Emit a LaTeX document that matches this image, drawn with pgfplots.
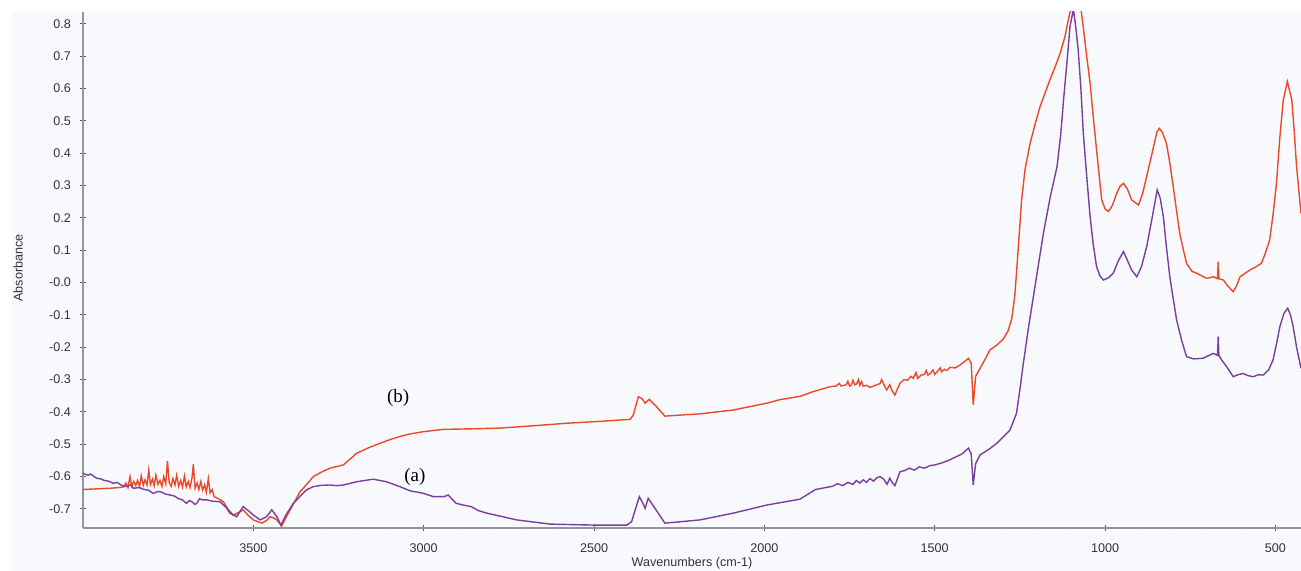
\documentclass[border=0pt]{standalone}
\usepackage{pgfplots}
\pgfplotsset{compat=1.18}
\usepackage{fontspec}
\setmainfont{Liberation Sans}
\newfontfamily\seriffont{Liberation Serif}
\definecolor{redc}{RGB}{236,72,42}
\definecolor{purc}{RGB}{122,62,160}
\definecolor{bgc}{RGB}{248,249,252}
\definecolor{axc}{RGB}{150,150,150}
\begin{document}
\begin{tikzpicture}
\useasboundingbox (-41.5pt,-21.5pt) rectangle (609pt,264pt);
\fill[bgc] (-35.5pt,-21.5pt) rectangle (609pt,258pt);
\begin{axis}[at={(0,0)}, anchor=south west, scale only axis,
  width=609pt, height=258pt,
  xmin=425, xmax=4000, x dir=reverse, ymin=-0.759, ymax=0.837,
  axis x line*=bottom, axis y line*=left,
  axis line style={axc, line width=0.7pt, -},
  xtick={500,1000,1500,2000,2500,3000,3500},
  xticklabels={500,1000,1500,2000,2500,3000,3500},
  minor x tick num=4,
  ytick={-0.7,-0.6,-0.5,-0.4,-0.3,-0.2,-0.1,0,0.1,0.2,0.3,0.4,0.5,0.6,0.7,0.8},
  yticklabels={-0.7,-0.6,-0.5,-0.4,-0.3,-0.2,-0.1,-0.0,0.1,0.2,0.3,0.4,0.5,0.6,0.7,0.8},
  minor y tick num=9,
  tick align=center, major tick length=3pt, minor tick length=1.4pt,
  major tick style={black!65, line width=0.5pt},
  minor tick style={black!60, line width=0.9pt},
  ticklabel style={font=\fontsize{6.3}{7}\selectfont, text=black!80},
  xticklabel style={yshift=-3pt},
  yticklabel style={xshift=-1pt},
  clip=true,
]
% (b) red
\addplot[redc, line width=0.7pt] coordinates {
(4000,-0.640) (3960,-0.638) (3920,-0.636) (3895,-0.634)
(3880,-0.632) (3874,-0.620) (3868,-0.634) (3862,-0.600) (3857,-0.630) (3851,-0.615) (3845,-0.628)
(3840,-0.612) (3834,-0.630) (3829,-0.598) (3823,-0.627) (3818,-0.610) (3812,-0.626) (3807,-0.580)
(3802,-0.625) (3796,-0.608) (3791,-0.628) (3786,-0.595) (3780,-0.624) (3774,-0.612) (3768,-0.630)
(3763,-0.600) (3757,-0.622) (3752,-0.552) (3747,-0.618) (3741,-0.630) (3736,-0.606) (3730,-0.626)
(3725,-0.596) (3719,-0.630) (3713,-0.612) (3708,-0.632) (3702,-0.598) (3697,-0.632) (3691,-0.615)
(3686,-0.634) (3680,-0.604) (3676,-0.562) (3671,-0.636) (3665,-0.620) (3660,-0.640) (3654,-0.615)
(3649,-0.642) (3643,-0.625) (3638,-0.648) (3632,-0.606) (3627,-0.650) (3621,-0.640) (3615,-0.662)
(3600,-0.670) (3588,-0.678) (3575,-0.700) (3559,-0.719) (3545,-0.712) (3530,-0.703) (3515,-0.720)
(3500,-0.734) (3475,-0.744) (3460,-0.735) (3451,-0.724) (3440,-0.728) (3431,-0.734) (3417,-0.753)
(3405,-0.728) (3392,-0.703) (3363,-0.647) (3340,-0.620) (3324,-0.600) (3300,-0.586) (3275,-0.574)
(3236,-0.564) (3215,-0.545) (3197,-0.528) (3160,-0.510) (3128,-0.497) (3100,-0.486) (3070,-0.476)
(3040,-0.468) (3000,-0.461) (2942,-0.454) (2850,-0.452) (2776,-0.450) (2680,-0.443) (2580,-0.435)
(2480,-0.429) (2394,-0.423) (2385,-0.410) (2370,-0.353) (2358,-0.360) (2350,-0.373) (2338,-0.361)
(2320,-0.380) (2292,-0.413) (2250,-0.410) (2189,-0.406) (2091,-0.394) (1993,-0.373) (1954,-0.362)
(1896,-0.352) (1856,-0.337) (1807,-0.322) (1790,-0.320) (1780,-0.312) (1775,-0.320) (1760,-0.316)
(1755,-0.305) (1750,-0.320) (1745,-0.318) (1740,-0.302) (1735,-0.316) (1729,-0.313) (1724,-0.300)
(1720,-0.318) (1715,-0.306) (1710,-0.320) (1700,-0.318) (1690,-0.324) (1675,-0.318) (1660,-0.312)
(1656,-0.300) (1648,-0.318) (1641,-0.332) (1632,-0.316) (1625,-0.335) (1617,-0.348) (1610,-0.330)
(1602,-0.311) (1590,-0.300) (1580,-0.302) (1570,-0.290) (1563,-0.296) (1555,-0.278) (1550,-0.296)
(1540,-0.286) (1530,-0.284) (1525,-0.272) (1520,-0.286) (1514,-0.282) (1505,-0.270) (1500,-0.284)
(1490,-0.272) (1484,-0.264) (1480,-0.276) (1472,-0.268) (1465,-0.272) (1455,-0.262) (1440,-0.264)
(1426,-0.255) (1410,-0.242) (1401,-0.234) (1393,-0.250) (1387,-0.378) (1380,-0.290) (1372,-0.275)
(1360,-0.252) (1348,-0.229) (1338,-0.208) (1320,-0.195) (1299,-0.175) (1285,-0.150) (1274,-0.112)
(1265,-0.040) (1260,0.030) (1250,0.180) (1245,0.256) (1235,0.350) (1220,0.431) (1205,0.492)
(1191,0.544) (1175,0.590) (1162,0.627) (1145,0.672) (1132,0.709) (1118,0.760) (1108,0.812)
(1098,0.860) (1085,0.880) (1075,0.880) (1064,0.790) (1054,0.700) (1044,0.617) (1035,0.515)
(1025,0.410) (1010,0.256) (1000,0.228) (990,0.220) (978,0.240) (966,0.276) (956,0.298) (946,0.307)
(935,0.290) (922,0.256) (902,0.240) (890,0.275) (878,0.328) (860,0.410) (848,0.465) (841,0.477)
(832,0.465) (820,0.431) (810,0.370) (800,0.297) (790,0.220) (781,0.153) (770,0.100) (761,0.060)
(745,0.035) (731,0.029) (702,0.013) (682,0.018) (670,0.012) (668,0.065) (666,0.012) (653,0.008)
(640,-0.010) (624,-0.028) (614,-0.010) (604,0.018) (575,0.039) (555,0.050) (541,0.060) (530,0.090)
(517,0.132) (507,0.210) (497,0.307) (487,0.450) (477,0.565) (465,0.622) (452,0.565) (445,0.470)
(438,0.359) (425,0.214)
};
% (a) purple
\addplot[purc, line width=0.7pt] coordinates {
(4000,-0.590) (3985,-0.596) (3978,-0.592) (3960,-0.605) (3945,-0.608) (3938,-0.612) (3925,-0.614)
(3911,-0.621) (3900,-0.618) (3885,-0.628) (3870,-0.630) (3860,-0.626) (3852,-0.636) (3835,-0.634)
(3820,-0.640) (3808,-0.642) (3794,-0.652) (3780,-0.646) (3770,-0.648) (3758,-0.654) (3745,-0.657)
(3732,-0.660) (3720,-0.668) (3708,-0.672) (3696,-0.683) (3688,-0.674) (3680,-0.678) (3672,-0.686)
(3666,-0.683) (3658,-0.668) (3650,-0.672) (3637,-0.672) (3620,-0.676) (3598,-0.678) (3580,-0.695)
(3569,-0.713) (3549,-0.724) (3530,-0.693) (3515,-0.705) (3500,-0.719) (3480,-0.734) (3461,-0.724)
(3446,-0.703) (3431,-0.724) (3419,-0.750) (3405,-0.720) (3383,-0.683) (3344,-0.641) (3324,-0.631)
(3300,-0.627) (3275,-0.626) (3255,-0.628) (3236,-0.626) (3197,-0.616) (3148,-0.608) (3109,-0.616)
(3070,-0.631) (3040,-0.644) (3000,-0.652) (2972,-0.662) (2940,-0.662) (2928,-0.657) (2915,-0.672)
(2904,-0.683) (2875,-0.690) (2860,-0.693) (2840,-0.705) (2815,-0.713) (2727,-0.734) (2629,-0.747)
(2500,-0.750) (2404,-0.750) (2390,-0.740) (2367,-0.662) (2358,-0.680) (2350,-0.698) (2341,-0.667)
(2320,-0.700) (2292,-0.744) (2250,-0.740) (2189,-0.734) (2091,-0.713) (1993,-0.688) (1896,-0.670)
(1850,-0.640) (1800,-0.630) (1785,-0.622) (1770,-0.628) (1755,-0.618) (1740,-0.624) (1730,-0.612)
(1720,-0.620) (1710,-0.610) (1700,-0.618) (1690,-0.606) (1680,-0.614) (1670,-0.604) (1661,-0.600)
(1650,-0.608) (1640,-0.624) (1632,-0.605) (1625,-0.618) (1617,-0.628) (1602,-0.585) (1590,-0.582)
(1575,-0.574) (1560,-0.580) (1545,-0.570) (1530,-0.574) (1514,-0.566) (1500,-0.564) (1480,-0.558)
(1460,-0.550) (1446,-0.543) (1420,-0.530) (1401,-0.512) (1393,-0.530) (1387,-0.626) (1380,-0.560)
(1367,-0.533) (1340,-0.515) (1318,-0.497) (1300,-0.478) (1279,-0.456) (1260,-0.404) (1250,-0.330)
(1240,-0.250) (1226,-0.147) (1210,-0.040) (1195,0.060) (1181,0.153) (1160,0.270) (1141,0.359)
(1130,0.460) (1122,0.565) (1112,0.680) (1103,0.792) (1093,0.845) (1086,0.790) (1079,0.720)
(1071,0.600) (1064,0.462) (1054,0.330) (1044,0.204) (1035,0.120) (1025,0.049) (1015,0.020)
(1005,0.008) (990,0.015) (976,0.029) (960,0.070) (946,0.096) (935,0.070) (922,0.039) (907,0.018)
(893,0.050) (878,0.111) (862,0.200) (847,0.287) (838,0.260) (829,0.204) (820,0.110) (810,0.018)
(800,-0.050) (790,-0.116) (775,-0.180) (761,-0.229) (740,-0.236) (712,-0.234) (695,-0.225)
(682,-0.219) (670,-0.225) (668,-0.167) (666,-0.225) (658,-0.239) (640,-0.265) (624,-0.291)
(610,-0.285) (595,-0.281) (580,-0.288) (565,-0.291) (550,-0.285) (536,-0.286) (520,-0.270)
(507,-0.239) (497,-0.190) (487,-0.136) (475,-0.095) (464,-0.079) (456,-0.100) (448,-0.136)
(438,-0.200) (425,-0.265)
};
\node[font=\seriffont\fontsize{9.5}{11}\selectfont] at (axis cs:3075,-0.357) {(b)};
\node[font=\seriffont\fontsize{9.5}{11}\selectfont] at (axis cs:3026,-0.601) {(a)};
\end{axis}
\node[font=\fontsize{6.3}{7}\selectfont, text=black!80] at (304.5pt,-17.5pt) {Wavenumbers (cm-1)};
\node[font=\fontsize{6.3}{7}\selectfont, text=black!80, rotate=90] at (-32.5pt,130pt) {Absorbance};
\end{tikzpicture}
\end{document}
